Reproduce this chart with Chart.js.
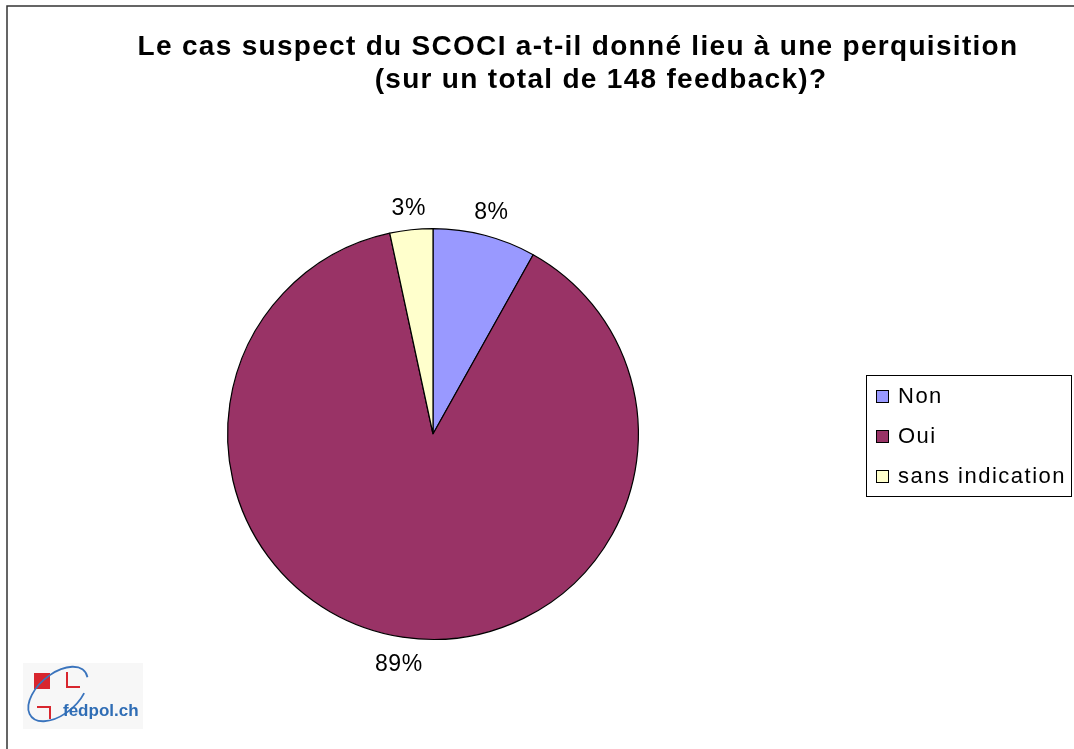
<!DOCTYPE html>
<html>
<head>
<meta charset="utf-8">
<script src="https://cdn.jsdelivr.net/npm/chart.js@4/dist/chart.umd.min.js"></script>
<style>
  body { margin: 0; background: #fff; }
  #wrap { position: relative; width: 1074px; height: 749px; }
</style>
</head>
<body>
<div id="wrap"><canvas id="chart" width="1074" height="749"></canvas></div>
<script>
// data (148 feedback in total)
var categories = ['Non', 'Oui', 'sans indication'];
var counts = [12, 131, 5];
var sliceColors = ['#9999FF', '#993366', '#FFFFCC'];
var titleLines = ['Le cas suspect du SCOCI a-t-il donné lieu à une perquisition',
                  '(sur un total de 148 feedback)?'];

var FONT = '"Liberation Sans", Arial, sans-serif';

// title, percentage labels, legend box, frame and logo
var decorations = {
  id: 'decorations',
  afterDraw: function(chart) {
    var ctx = chart.ctx;
    ctx.save();

    // frame (top and left edge)
    ctx.strokeStyle = '#333';
    ctx.lineWidth = 1.5;
    ctx.beginPath();
    ctx.moveTo(7, 749);
    ctx.lineTo(7, 6);
    ctx.lineTo(1074, 6);
    ctx.stroke();

    // title
    ctx.fillStyle = '#000';
    ctx.font = 'bold 28px ' + FONT;
    ctx.letterSpacing = '1.3px';
    ctx.textAlign = 'center';
    ctx.textBaseline = 'alphabetic';
    ctx.fillText(titleLines[0], 578, 55);
    ctx.fillText(titleLines[1], 601, 88);

    // percentage labels outside the slices, box kept a fixed gap from the rim
    var meta = chart.getDatasetMeta(0);
    var total = counts.reduce(function(a, b) { return a + b; }, 0);
    ctx.font = '23px ' + FONT;
    ctx.letterSpacing = '0.5px';
    ctx.textBaseline = 'middle';
    meta.data.forEach(function(arc, i) {
      var p = arc.getProps(['x', 'y', 'startAngle', 'endAngle', 'outerRadius'], true);
      var mid = (p.startAngle + p.endAngle) / 2;
      var label = Math.round(counts[i] / total * 100) + '%';
      var w = ctx.measureText(label).width;
      var ext = w / 2 * Math.abs(Math.cos(mid)) + 8 * Math.abs(Math.sin(mid));
      var d = p.outerRadius + 14 + ext;
      ctx.fillText(label, p.x + Math.cos(mid) * d, p.y + Math.sin(mid) * d + 2.5);
    });

    // legend
    ctx.lineWidth = 1;
    ctx.strokeStyle = '#000';
    ctx.strokeRect(866.5, 375.5, 205, 121);
    ctx.font = '22px ' + FONT;
    ctx.letterSpacing = '1.5px';
    ctx.textAlign = 'left';
    ctx.textBaseline = 'alphabetic';
    categories.forEach(function(name, i) {
      var y = 390 + i * 40;
      ctx.fillStyle = sliceColors[i];
      ctx.fillRect(876.5, y + 0.5, 12, 12);
      ctx.strokeRect(876.5, y + 0.5, 12, 12);
      ctx.fillStyle = '#000';
      ctx.fillText(name, 898, y + 13);
    });

    // fedpol.ch logo
    ctx.letterSpacing = '0px';
    ctx.fillStyle = '#f7f7f7';
    ctx.fillRect(23, 663, 120, 66);
    ctx.fillStyle = '#d8262e';
    ctx.fillRect(34, 673, 16, 16);
    ctx.strokeStyle = '#d8262e';
    ctx.lineWidth = 2;
    ctx.beginPath();
    ctx.moveTo(67, 672); ctx.lineTo(67, 687); ctx.lineTo(80, 687);
    ctx.moveTo(37, 707); ctx.lineTo(50, 707); ctx.lineTo(50, 719);
    ctx.stroke();
    ctx.strokeStyle = '#3a74bd';
    ctx.lineWidth = 1.8;
    ctx.beginPath();
    ctx.ellipse(58, 694, 35, 20, -0.7, 0.3 * Math.PI, 2.1 * Math.PI);
    ctx.stroke();
    ctx.fillStyle = '#2f6db5';
    ctx.font = 'bold 17px ' + FONT;
    ctx.fillText('fedpol.ch', 63, 716);

    ctx.restore();
  }
};

new Chart(document.getElementById('chart'), {
  type: 'pie',
  data: {
    labels: categories,
    datasets: [{
      data: counts,
      backgroundColor: sliceColors,
      borderColor: '#000',
      borderWidth: 1.2
    }]
  },
  options: {
    responsive: false,
    animation: false,
    layout: { padding: { left: 227, right: 435, top: 228, bottom: 109 } },
    plugins: {
      legend: { display: false },
      title: { display: false },
      tooltip: { enabled: false }
    }
  },
  plugins: [decorations]
});
</script>
</body>
</html>
